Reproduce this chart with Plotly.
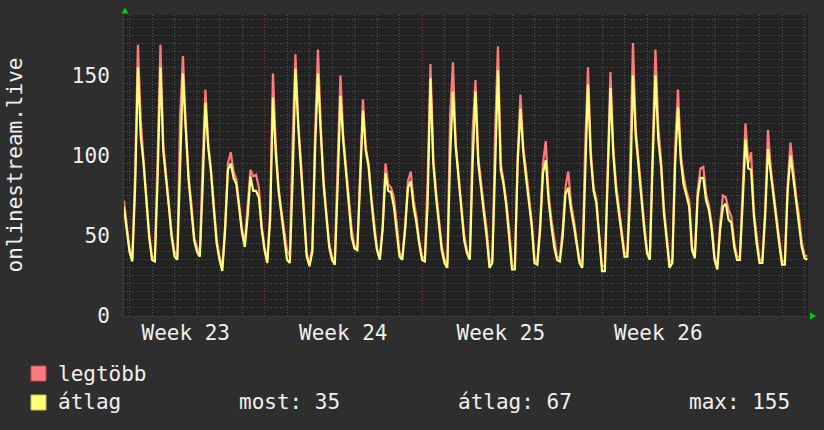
import plotly.graph_objects as go

# ---- data (3-hour samples, hours relative to Tue 00:00 of the first full day) ----
avg_vals = [
    68, 52,
    40, 34, 80, 155, 112, 95, 72, 49,
    35, 34, 85, 155, 103, 87, 68, 49,
    37, 35, 100, 151, 116, 85, 66, 47,
    40, 37, 80, 133, 105, 89, 66, 45,
    35, 28, 54, 91, 95, 86, 82, 66,
    52, 43, 62, 87, 78, 78, 74, 54,
    41, 33, 60, 136, 101, 78, 62, 49,
    35, 33, 85, 154, 118, 91, 62, 37,
    31, 40, 105, 151, 114, 82, 62, 43,
    35, 32, 80, 137, 109, 89, 68, 49,
    42, 41, 84, 128, 103, 93, 72, 54,
    41, 35, 54, 89, 78, 77, 68, 54,
    37, 35, 54, 80, 84, 68, 58, 45,
    35, 34, 70, 148, 95, 74, 58, 41,
    33, 30, 100, 140, 105, 84, 66, 47,
    39, 35, 95, 140, 95, 78, 64, 49,
    30, 33, 100, 153, 91, 82, 68, 49,
    29, 29, 95, 129, 102, 86, 72, 56,
    33, 32, 54, 89, 97, 72, 56, 43,
    35, 34, 49, 76, 80, 66, 56, 43,
    33, 30, 95, 144, 99, 78, 70, 47,
    28, 28, 84, 142, 101, 78, 64, 49,
    37, 37, 74, 150, 112, 93, 72, 54,
    39, 35, 95, 150, 110, 93, 64, 45,
    30, 33, 95, 130, 97, 82, 74, 68,
    41, 36, 74, 86, 86, 72, 66, 54,
    35, 29, 54, 68, 70, 60, 58, 43,
    35, 35, 70, 110, 92, 91, 62, 45,
    33, 33, 62, 104, 89, 74, 58, 45,
    32, 32, 78, 100, 86, 72, 60, 43,
    36, 35,
]
max_vals = [
    72, 56,
    42, 36, 90, 169, 122, 97, 74, 51,
    37, 36, 100, 169, 107, 89, 70, 51,
    40, 37, 125, 162, 120, 87, 70, 49,
    43, 39, 95, 141, 107, 91, 69, 48,
    37, 31, 56, 95, 102, 90, 85, 70,
    54, 46, 66, 91, 87, 88, 80, 56,
    43, 35, 65, 151, 107, 80, 66, 52,
    41, 37, 110, 163, 120, 95, 64, 39,
    33, 42, 115, 166, 118, 85, 64, 45,
    37, 35, 95, 150, 112, 91, 70, 54,
    43, 43, 89, 135, 105, 95, 74, 56,
    42, 37, 56, 95, 82, 80, 74, 58,
    39, 37, 56, 84, 90, 72, 62, 47,
    37, 36, 85, 157, 99, 78, 62, 44,
    35, 33, 125, 158, 107, 87, 68, 50,
    41, 37, 115, 147, 99, 82, 68, 54,
    33, 35, 115, 168, 95, 84, 71, 54,
    31, 31, 99, 138, 105, 91, 76, 59,
    35, 34, 58, 95, 109, 76, 60, 47,
    37, 36, 54, 80, 90, 70, 60, 47,
    35, 33, 105, 155, 103, 80, 73, 50,
    31, 31, 95, 152, 105, 82, 68, 54,
    39, 39, 95, 170, 116, 97, 76, 58,
    41, 37, 105, 166, 118, 97, 68, 48,
    33, 35, 105, 141, 101, 87, 78, 72,
    43, 38, 78, 92, 93, 76, 69, 57,
    37, 31, 58, 75, 74, 66, 62, 46,
    37, 37, 74, 120, 95, 102, 65, 48,
    35, 35, 66, 116, 92, 77, 62, 48,
    34, 34, 82, 108, 89, 75, 63, 46,
    38, 37,
]
t_first = -6      # hours
t_step = 3        # hours per sample
hours = [t_first + t_step * i for i in range(len(avg_vals))]

week_starts = [144, 312, 480, 648]          # Monday 00:00 (hours)
week_centers = [60, 228, 396, 564]
week_labels = ["Week 23", "Week 24", "Week 25", "Week 26"]
y_ticks = [0, 50, 100, 150]
series_names = ["legtöbb", "átlag"]
stat_texts = ["most: 35", "átlag: 67", "max: 155"]
y_title = "onlinestream.live"
x_range = [-5.87, 723.7]
y_range = [0, 187.5]

# ---- styling ----
W, H = 824, 430
L, R, T, B = 124, 16, 15, 114
PW, PH = W - L - R, H - T - B
BACK = "#2e2e2e"
CANVAS = "#222222"
FONT = "DejaVu Sans Mono"
TXT = "#f0f0f0"
RED = "#ff7a7a"
YEL = "#ffff7a"
MINOR = "#555555"
MAJOR = "#7a3a3a"


def px(x):
    return (x - L) / PW


def py(y):
    return (H - B - y) / PH


fig = go.Figure()
fig.add_trace(go.Scatter(x=hours, y=max_vals, mode="lines", name=series_names[0],
                         line=dict(color=RED, width=2.2), hoverinfo="skip"))
fig.add_trace(go.Scatter(x=hours, y=avg_vals, mode="lines", name=series_names[1],
                         line=dict(color=YEL, width=2.2), hoverinfo="skip"))
fig.add_trace(go.Scatter(x=[week_centers[0]], y=[None], xaxis="x2", mode="lines",
                         showlegend=False, hoverinfo="skip"))

fig.update_layout(
    width=W, height=H,
    margin=dict(l=L, r=R, t=T, b=B, pad=0),
    paper_bgcolor=BACK, plot_bgcolor=CANVAS,
    showlegend=False,
    font=dict(family=FONT, size=21, color=TXT),
    xaxis=dict(range=x_range, tickmode="array", tickvals=week_starts,
               showticklabels=False, ticks="", showgrid=True,
               gridcolor=MAJOR, griddash="1px,2px", gridwidth=1,
               zeroline=False, showline=True, linecolor="#3a3a3a",
               minor=dict(tick0=0, dtick=24, showgrid=True, gridcolor=MINOR,
                          griddash="1px,2px", gridwidth=1)),
    xaxis2=dict(range=x_range, overlaying="x", anchor="y", side="bottom",
                tickmode="array", tickvals=week_centers, ticktext=week_labels,
                showgrid=False, zeroline=False, ticks="", ticklabelstandoff=2,
                tickfont=dict(family=FONT, size=21, color=TXT)),
    yaxis=dict(range=y_range, tickmode="array", tickvals=y_ticks,
               showgrid=True, gridcolor=MAJOR, griddash="1px,2px", gridwidth=1,
               zeroline=False, showline=True, linecolor="#3a3a3a",
               ticks="", ticklabelstandoff=9,
               tickfont=dict(family=FONT, size=21, color=TXT),
               minor=dict(tick0=0, dtick=5, showgrid=True, gridcolor=MINOR,
                          griddash="1px,2px", gridwidth=1)),
)

ann = []
ann.append(dict(x=px(14), y=0.5, xref="paper", yref="paper", text=y_title,
                textangle=-90, showarrow=False, xanchor="center", yanchor="middle",
                font=dict(family=FONT, size=21, color=TXT)))
ann.append(dict(x=px(56), y=py(374), xref="paper", yref="paper", text=series_names[0],
                showarrow=False, xanchor="left", yanchor="middle",
                font=dict(family=FONT, size=21, color=TXT)))
ann.append(dict(x=px(56), y=py(402), xref="paper", yref="paper", text=series_names[1],
                showarrow=False, xanchor="left", yanchor="middle",
                font=dict(family=FONT, size=21, color=TXT)))
for xs, txt in zip([237, 456, 687], stat_texts):
    ann.append(dict(x=px(xs), y=py(402), xref="paper", yref="paper", text=txt,
                    showarrow=False, xanchor="left", yanchor="middle",
                    font=dict(family=FONT, size=21, color=TXT)))
fig.update_layout(annotations=ann)

shapes = []
for (y0, y1), col, edge in [((366, 381), RED, "#c05050"), ((395, 410), YEL, "#c0c050")]:
    shapes.append(dict(type="rect", xref="paper", yref="paper",
                       x0=px(31), x1=px(46), y0=py(y1), y1=py(y0),
                       fillcolor=col, line=dict(color=edge, width=1)))
# green axis arrows
up = f"M {px(121.5)} {py(13.5)} L {px(128.5)} {py(13.5)} L {px(125)} {py(7.5)} Z"
rt = f"M {px(810)} {py(312.5)} L {px(810)} {py(319.5)} L {px(816)} {py(316)} Z"
for p in (up, rt):
    shapes.append(dict(type="path", xref="paper", yref="paper", path=p,
                       fillcolor="#00d000", line=dict(color="#00d000", width=0)))
fig.update_layout(shapes=shapes)

fig.write_html("out.html")
